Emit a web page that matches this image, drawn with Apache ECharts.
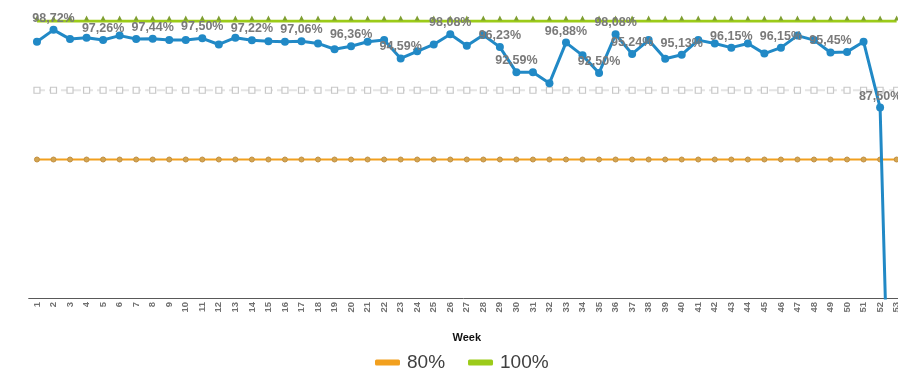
<!DOCTYPE html>
<html>
<head>
<meta charset="utf-8">
<script src="https://cdn.jsdelivr.net/npm/echarts@6/dist/echarts.min.js"></script>
<style>
  html, body { margin: 0; padding: 0; background: #fff; }
  #chart { width: 898px; height: 370px; }
</style>
</head>
<body>
<div id="chart"></div>
<script>
// Weekly compliance rate, weeks 1..53
const weeks = ['1','2','3','4','5','6','7','8','9','10','11','12','13','14','15','16','17','18','19','20',
  '21','22','23','24','25','26','27','28','29','30','31','32','33','34','35','36','37','38','39','40',
  '41','42','43','44','45','46','47','48','49','50','51','52','53'];

const rate = [97.01, 98.72, 97.39, 97.59, 97.26, 97.89, 97.39, 97.44, 97.24, 97.24,
  97.50, 96.61, 97.59, 97.22, 97.09, 97.00, 97.06, 96.76, 95.92, 96.36,
  97.00, 97.24, 94.59, 95.62, 96.61, 98.08, 96.42, 97.98, 96.23, 92.59,
  92.59, 91.02, 96.88, 95.04, 92.50, 98.08, 95.24, 97.24, 94.55, 95.13,
  97.24, 96.76, 96.15, 96.76, 95.29, 96.15, 97.89, 97.24, 95.45, 95.54,
  97.01, 87.50, 0];

// weeks whose value is written next to the point
const labelledWeeks = ['2','5','8','11','14','17','20','23','26','29','30','33','35','36','37','40','43','46','49','52'];

// reference levels
const target100 = 100;
const target90 = 90;
const target80 = 80;

const COLOR_100 = '#9ccb19';
const COLOR_80 = '#f2a01e';

const fmt = v => v.toFixed(2).replace('.', ',') + '%';

const rateData = rate.map((v, i) => ({
  value: v,
  label: { show: labelledWeeks.includes(weeks[i]) }
}));

const chart = echarts.init(document.getElementById('chart'), null, { renderer: 'canvas' });

chart.setOption({
  animation: false,
  backgroundColor: '#ffffff',
  grid: { left: 28.7, width: 876.2, top: 21, bottom: 72, containLabel: false, outerBoundsMode: 'none' },
  legend: {
    data: [
      { name: '80%', itemStyle: { color: COLOR_80, borderWidth: 0 } },
      { name: '100%', itemStyle: { color: COLOR_100, borderWidth: 0 } }
    ],
    top: 353,
    left: 375,
    itemWidth: 25,
    itemHeight: 6,
    itemGap: 23,
    icon: 'roundRect',
    padding: 0,
    textStyle: { fontFamily: 'Liberation Sans, Arial, sans-serif', fontSize: 19, color: '#404040', padding: [0, 0, 0, 2] }
  },
  xAxis: {
    type: 'category',
    data: weeks,
    boundaryGap: true,
    name: 'Week',
    nameLocation: 'middle',
    nameGap: 34,
    nameTextStyle: { fontFamily: 'Liberation Sans, Arial, sans-serif', fontSize: 11, fontWeight: 'bold', color: '#111', verticalAlign: 'top' },
    axisLine: { lineStyle: { color: '#595959', width: 1 } },
    axisTick: { alignWithLabel: true, length: 4, lineStyle: { color: '#595959' } },
    axisLabel: {
      interval: 0,
      rotate: 90,
      margin: 4,
      fontFamily: 'Liberation Sans, Arial, sans-serif',
      fontSize: 9.5,
      fontWeight: 'bold',
      color: '#707070'
    },
    splitLine: { show: false }
  },
  yAxis: {
    type: 'value',
    min: 60,
    max: 100,
    show: false,
    splitLine: { show: false }
  },
  series: [
    {
      name: '90%',
      type: 'line',
      data: weeks.map(() => target90),
      symbol: 'rect',
      symbolSize: 6,
      lineStyle: { color: '#e4e4e4', width: 2, type: 'dashed' },
      itemStyle: { color: '#ffffff', borderColor: '#c8c8c8', borderWidth: 1.2 },
      z: 2
    },
    {
      name: '80%',
      type: 'line',
      data: weeks.map(() => target80),
      symbol: 'circle',
      symbolSize: 5,
      lineStyle: { color: COLOR_80, width: 2 },
      itemStyle: { color: '#d2a552', borderColor: '#c49040', borderWidth: 1 },
      z: 3
    },
    {
      name: '100%',
      type: 'line',
      data: weeks.map(() => target100),
      symbol: 'triangle',
      symbolSize: 5,
      symbolOffset: [0, -3],
      lineStyle: { color: COLOR_100, width: 3 },
      itemStyle: { color: '#7f9f30' },
      z: 4
    },
    {
      name: 'Rate',
      type: 'line',
      data: rateData,
      clip: true,
      symbol: 'circle',
      symbolSize: 8,
      lineStyle: { color: '#2189c6', width: 3 },
      itemStyle: { color: '#2189c6' },
      label: {
        position: 'top',
        distance: 1,
        formatter: p => fmt(p.value),
        fontFamily: 'Liberation Sans, Arial, sans-serif',
        fontSize: 12.5,
        fontWeight: 'bold',
        color: '#7a7a7a'
      },
      z: 5
    }
  ]
});
</script>
</body>
</html>
